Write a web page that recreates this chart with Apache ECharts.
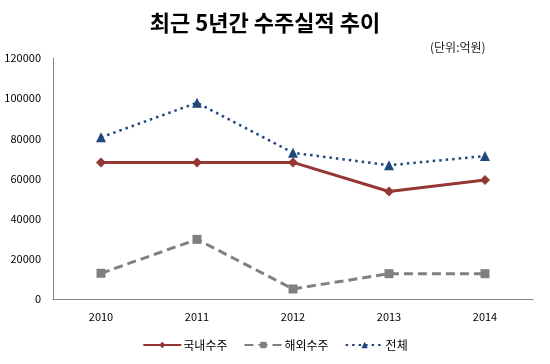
<!DOCTYPE html>
<html><head><meta charset="utf-8">
<script src="https://cdn.jsdelivr.net/npm/echarts@6/dist/echarts.min.js"></script>
<style>html,body{margin:0;padding:0;background:#fff}#c{width:550px;height:364px}</style>
</head><body><div id="c"></div>
<script>
var categories = ['2010','2011','2012','2013','2014'];
var domestic = [68000, 68000, 68000, 53500, 59200];
var overseas = [12800, 29700, 5000, 12600, 12600];
var total = [80500, 97700, 72800, 66600, 71200];
var seriesNames = ['국내수주','해외수주','전체'];

var chart = echarts.init(document.getElementById('c'));
var font = "'Noto Sans CJK KR', sans-serif";
chart.setOption({
  animation:false,
  textStyle:{fontFamily:font},
  title:[
    {text:'최근 5년간 수주실적 추이', left:260, top:7, textAlign:'center',
     textStyle:{fontSize:22, fontWeight:'bold', color:'#000', fontFamily:font}},
    {text:'(단위:억원)', left:425, top:36,
     textStyle:{fontSize:12, fontWeight:'normal', color:'#222', fontFamily:font}}
  ],
  legend:{bottom:8, left:'center', itemWidth:38, itemHeight:8, itemGap:16,
    textStyle:{fontSize:12, color:'#000', fontFamily:font, padding:[0,0,0,-3]},
    data:seriesNames},
  grid:{left:53, right:17, top:58, bottom:65, containLabel:false},
  xAxis:{type:'category', data:categories, boundaryGap:true,
    axisLine:{lineStyle:{color:'#888'}}, axisTick:{show:false},
    axisLabel:{fontSize:11, color:'#000', margin:12}},
  yAxis:{type:'value', min:0, max:120000, interval:20000,
    axisLine:{show:true, lineStyle:{color:'#888'}}, axisTick:{show:false},
    splitLine:{show:false},
    axisLabel:{fontSize:11, color:'#000', margin:12,
      formatter:function(v){return String(v);}}},
  series:[
    {name:seriesNames[0], type:'line', data:domestic, symbol:'diamond', symbolSize:10,
     lineStyle:{color:'#953735', width:3}, itemStyle:{color:'#953735'}},
    {name:seriesNames[1], type:'line', data:overseas, symbol:'rect', symbolSize:9,
     lineStyle:{color:'#808080', width:3, type:[9,5]}, itemStyle:{color:'#808080'}},
    {name:seriesNames[2], type:'line', data:total, symbol:'triangle', symbolSize:10,
     lineStyle:{color:'#1f497d', width:2.5, type:[2.5,4]}, itemStyle:{color:'#1f497d'}}
  ]
});
</script></body></html>
